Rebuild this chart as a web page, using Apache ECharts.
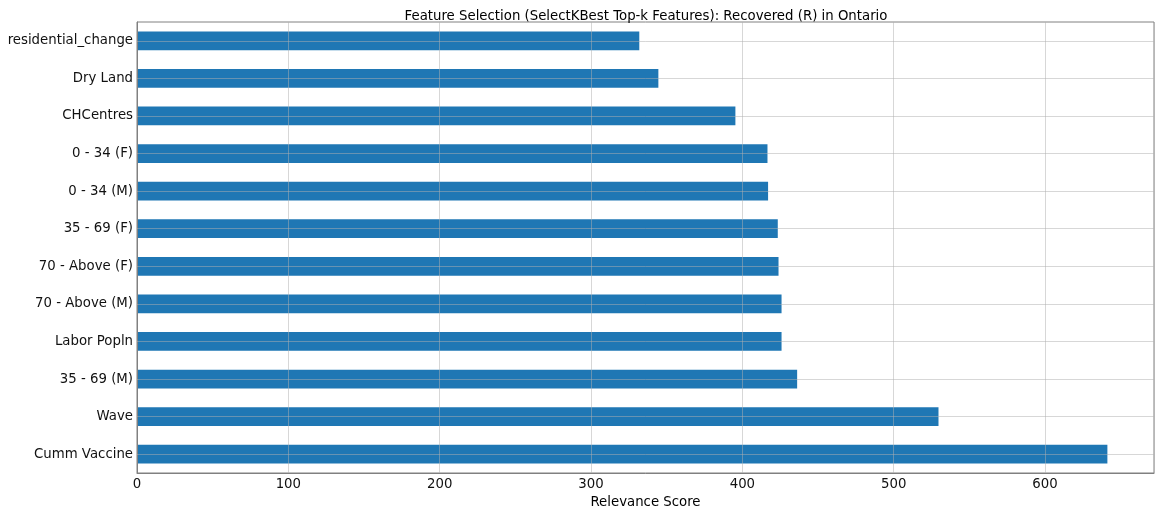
<!DOCTYPE html>
<html>
<head>
<meta charset="utf-8">
<script src="https://cdn.jsdelivr.net/npm/echarts@6/dist/echarts.min.js"></script>
<style>
  html, body { margin: 0; padding: 0; background: #fff; }
  #chart { width: 1160px; height: 508px; }
</style>
</head>
<body>
<div id="chart"></div>
<script>
// Features listed bottom-to-top (category axis starts at the bottom)
const features = [
  'Cumm Vaccine', 'Wave', '35 - 69 (M)', 'Labor Popln', '70 - Above (M)',
  '70 - Above (F)', '35 - 69 (F)', '0 - 34 (M)', '0 - 34 (F)', 'CHCentres',
  'Dry Land', 'residential_change'
];
const scores = [
  641.2, 529.6, 436.2, 425.9, 425.9,
  423.9, 423.4, 417.0, 416.6, 395.4,
  344.5, 331.9
];
const xTicks = [0, 100, 200, 300, 400, 500, 600];

const FONT = 'DejaVu Sans';
const FS = 13.3;
const TEXT = '#111';
const GRID_LINE = 'rgba(176,176,176,0.5)';

const chart = echarts.init(document.getElementById('chart'), null, { renderer: 'canvas' });

chart.setOption({
  animation: false,
  backgroundColor: '#ffffff',
  title: {
    text: 'Feature Selection (SelectKBest Top-k Features): Recovered (R) in Ontario',
    left: 641, top: 5, textAlign: 'center',
    textStyle: { fontFamily: FONT, fontSize: FS, fontWeight: 'normal', color: '#000' }
  },
  grid: {
    left: 137, right: 6, top: 22, bottom: 35,
    outerBoundsMode: 'none',
    containLabel: false,
    show: true, borderColor: '#808080', borderWidth: 1, backgroundColor: 'transparent'
  },
  xAxis: {
    type: 'value', min: 0, max: 672, interval: 100,
    z: 5,
    name: 'Relevance Score', nameLocation: 'middle', nameGap: 19,
    nameTextStyle: { fontFamily: FONT, fontSize: FS, color: '#000' },
    axisLine: { show: true, lineStyle: { color: '#808080', width: 1 } },
    axisTick: { show: false },
    axisLabel: {
      fontFamily: FONT, fontSize: FS, color: TEXT, margin: 5,
      showMaxLabel: false,
      formatter: v => (xTicks.includes(v) ? String(v) : '')
    },
    splitLine: { show: true, lineStyle: { color: GRID_LINE, width: 1 } }
  },
  yAxis: {
    type: 'category', data: features,
    z: 5,
    axisLine: { show: true, lineStyle: { color: '#808080', width: 1 } },
    axisTick: { show: false },
    axisLabel: { fontFamily: FONT, fontSize: FS, color: TEXT, margin: 4 },
    splitLine: { show: false }
  },
  series: [{
    type: 'bar',
    data: scores,
    barWidth: '50%',
    itemStyle: { color: '#1f77b4' },
    markLine: {
      silent: true,
      symbol: 'none',
      z: 6,
      label: { show: false },
      lineStyle: { color: GRID_LINE, width: 1, type: 'solid' },
      data: features.map(f => ({ yAxis: f }))
    }
  }]
});
</script>
</body>
</html>
